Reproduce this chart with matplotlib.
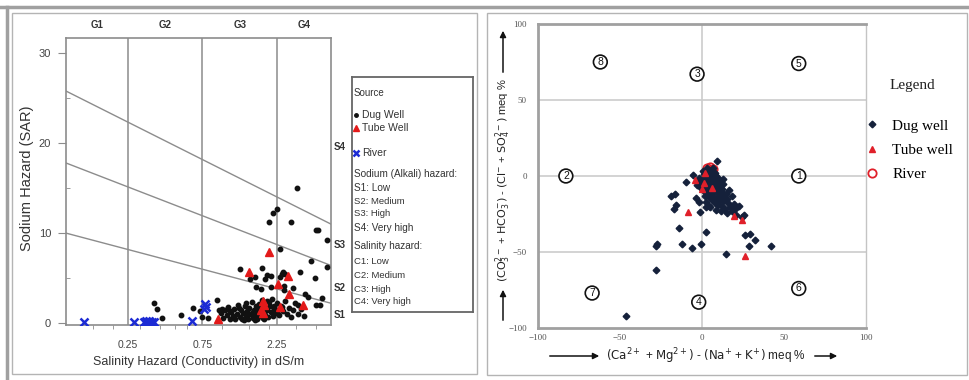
import numpy as np
import matplotlib.pyplot as plt
from matplotlib.patches import Rectangle
from matplotlib.lines import Line2D
from matplotlib.ticker import FixedLocator, NullFormatter

plt.rcParams['font.family'] = ['Liberation Sans', 'DejaVu Sans']

# ---------------- left panel data (USSL / Wilcox) ----------------
ec_span = [0.1, 5.0]                       # dS/m
class_bounds = [0.25, 0.75, 2.25]
class_labels = ['0.25', '0.75', '2.25']
class_names = ['G1', 'G2', 'G3', 'G4']
sar_lines_left = [10.0, 17.8, 25.8]        # SAR at 0.1 dS/m
sar_lines_right = [2.2, 6.4, 11.0]         # SAR at 5 dS/m
s_names = ['S1', 'S2', 'S3', 'S4']
s_label_sar = [0.9, 3.9, 8.7, 19.6]

dug_ec = [3.04, 2.26, 2.13, 2.01, 2.78, 4.03, 4.12, 4.68, 2.36, 3.74, 4.68, 1.30,
          1.81, 2.47, 2.42, 2.52, 3.18, 3.97, 1.63, 2.07, 2.36, 1.65, 2.07, 2.51,
          2.51, 2.86, 3.42, 3.57, 4.03, 4.27, 4.41, 3.09, 2.42, 1.52, 1.79, 1.90,
          1.93, 0.369, 0.386, 0.41, 0.543, 0.65, 0.72, 0.75, 0.81, 0.93, 0.95, 1.01,
          1.05, 1.08, 1.10, 1.12, 1.15, 1.17, 1.20, 1.22, 1.25, 1.27, 1.30, 1.32,
          1.35, 1.37, 1.40, 1.42, 1.45, 1.47, 1.50, 1.52, 1.55, 1.57, 1.60, 1.62,
          1.65, 1.67, 1.70, 1.72, 1.75, 1.77, 1.80, 1.82, 1.85, 1.88, 1.90, 1.93,
          1.95, 1.98, 2.02, 2.05, 2.08, 2.12, 2.16, 2.20, 2.24, 2.28, 2.32, 2.38,
          2.45, 2.52, 2.60, 2.68, 2.76, 2.85, 2.95, 3.05, 3.20, 3.35, 1.12, 1.28,
          1.43, 1.58, 1.73, 1.87, 2.00, 2.14, 1.38, 1.63, 1.85, 0.98, 1.00]
dug_sar = [15.0, 12.7, 12.2, 11.2, 11.2, 10.3, 10.3, 9.2, 8.2, 6.9, 6.2, 6.0,
           6.1, 5.7, 5.4, 5.4, 5.7, 5.0, 5.1, 5.2, 5.1, 4.0, 4.0, 4.1,
           3.7, 3.9, 3.2, 2.9, 2.0, 2.0, 2.8, 2.0, 1.8, 4.9, 3.8, 4.9,
           5.3, 2.2, 1.6, 0.6, 0.9, 1.7, 1.3, 0.7, 0.6, 2.6, 1.4, 0.6,
           1.5, 0.9, 1.8, 0.5, 1.2, 0.8, 1.6, 0.4, 1.0, 2.0, 0.7, 1.4,
           0.5, 1.1, 1.9, 0.8, 1.3, 0.4, 1.7, 1.0, 2.3, 0.6, 1.4, 0.9,
           1.9, 0.5, 1.2, 2.1, 0.8, 1.5, 2.6, 0.6, 1.1, 1.8, 0.9, 2.4,
           1.4, 0.7, 1.9, 1.2, 2.7, 0.8, 1.6, 1.1, 2.2, 1.5, 0.9, 1.9,
           1.3, 2.5, 1.0, 1.7, 0.7, 1.4, 2.2, 1.0, 1.6, 0.8, 1.3, 1.7,
           2.2, 1.2, 1.6, 1.3, 2.3, 1.9, 0.3, 0.3, 0.4, 1.1, 1.6]

tube_ec = [2.00, 1.49, 2.66, 2.28, 2.68, 3.30, 2.36, 1.83, 1.85, 1.78, 1.84, 0.94]
tube_sar = [7.9, 5.7, 5.2, 4.3, 3.2, 2.0, 1.8, 2.5, 2.0, 1.4, 1.1, 0.4]

river_ec = [0.131, 0.274, 0.314, 0.326, 0.333, 0.341, 0.348, 0.356, 0.364, 0.64, 0.77, 0.78, 0.79]
river_sar = [0.15, 0.1, 0.15, 0.2, 0.1, 0.2, 0.15, 0.1, 0.15, 0.25, 1.6, 2.1, 1.8]

# ---------------- right panel data (Chadha) ----------------
axis_ticks = [-100, -50, 0, 50, 100]
chadha_dug_x = [9.0, -5.3, -9.9, -19.1, -16.5, -16.0, -17.0, -3.8, -1.8, -1.4, 2.2, 4.3,
                -14.0, 2.2, -27.2, -28.2, -12.0, -6.3, -0.4, 14.8, 26.2, 29.1, 28.7, 32.3,
                42.3, 25.6, 24.6, -28.2, -46.5,
                0.5, 1.5, 2.5, 3.5, 4.5, 5.5, 6.5, 7.5, 8.5, 9.5, 1.0, 2.0, 3.0, 4.0,
                5.0, 6.0, 7.0, 8.0, 9.0, 10.0, 11.0, 12.0, 1.5, 2.5, 3.5, 4.5, 5.5, 6.5,
                7.5, 8.5, 9.5, 10.5, 11.5, 12.5, 13.5, 14.5, 3.0, 5.0, 7.0, 9.0, 11.0,
                13.0, 15.0, 16.0, 6.0, 8.0, 10.0, 12.0, 14.0, 17.0, 18.0, 20.0, 15.5,
                11.5, 19.5, 21.0, -1.0, -2.0, 0.0, -0.5, 1.0, -3.0, 4.0, 2.0, 6.0, 8.0,
                10.0, 11.5, 13.0, 12.5, 3.0, 7.0, 16.5, 18.5, 22.5, 5.0, 8.5, 2.5]
chadha_dug_y = [9.7, 0.7, -4.1, -13.0, -11.8, -19.0, -22.0, -14.7, -17.3, -24.0, -20.6, -20.0,
                -34.0, -36.6, -44.7, -45.8, -44.7, -47.4, -44.7, -51.3, -38.8, -38.2, -45.8, -42.1,
                -45.8, -25.7, -27.2, -61.8, -92.3,
                3.0, 1.5, 4.0, 0.5, 2.5, -1.0, 1.0, -2.0, 0.0, -3.0, -1.5, -3.0, -2.0, -4.5,
                -3.5, -5.5, -4.0, -6.5, -5.0, -7.5, -6.0, -8.5, -6.0, -7.5, -5.5, -8.0, -9.5, -7.5,
                -10.0, -9.0, -11.5, -10.0, -12.5, -11.0, -13.5, -12.0, -10.5, -12.0, -13.0, -14.5, -15.5,
                -16.5, -15.0, -18.0, -16.0, -17.5, -19.0, -20.0, -21.5, -20.5, -23.0, -22.0, -24.5,
                -23.0, -18.5, -25.5, -3.0, -1.0, -5.0, -8.0, -10.0, -6.0, -14.0, -13.0, 3.0, 2.0,
                -1.0, -3.5, -5.0, -2.0, 5.5, 5.0, -9.5, -13.0, -20.0, -20.5, -22.5, -17.0]
chadha_tube_x = [-8.3, 19.5, 24.2, 26.2, 0.2, -4.3, 1.5, 6.0, 2.0]
chadha_tube_y = [-24.0, -26.1, -28.7, -52.8, -8.6, -2.4, -4.5, -8.0, 2.0]
chadha_river_x = [3.0, 5.0, 7.0, 4.0, 6.0]
chadha_river_y = [5.5, 6.0, 4.5, 3.0, 2.5]
field_names = ['1', '2', '3', '4', '5', '6', '7', '8']

# ---------------- layout helpers ----------------
W, H = 969, 380
fig = plt.figure(figsize=(W / 100, H / 100), dpi=100)


def box(x0, y0, x1, y1):
    return [x0 / W, 1 - y1 / H, (x1 - x0) / W, (y1 - y0) / H]


fig.add_artist(Line2D([0, 1], [1 - 7 / H] * 2, transform=fig.transFigure, color='#a0a0a0', lw=2.5))
fig.add_artist(Line2D([7 / W] * 2, [0, 1 - 7 / H], transform=fig.transFigure, color='#a0a0a0', lw=2.5))
for b in [box(12, 13, 477, 374), box(487, 13, 967, 375)]:
    fig.add_artist(Rectangle((b[0], b[1]), b[2], b[3], transform=fig.transFigure,
                             fill=False, ec='#b4b4b4', lw=1))

# ---------------- left panel ----------------
ax1 = fig.add_axes(box(66, 38, 331, 325))
ax1.set_xscale('log')
ax1.set_xlim(*ec_span)
ax1.set_ylim(-0.22, 31.7)
for s in ax1.spines.values():
    s.set_color('#8c8c8c')
    s.set_linewidth(1.2)

for xb in class_bounds:
    ax1.axvline(xb, color='#8c8c8c', lw=1.1, zorder=1)
for l, r in zip(sar_lines_left, sar_lines_right):
    ax1.plot(ec_span, [l, r], color='#8c8c8c', lw=1.0, zorder=1)

ax1.set_xticks(class_bounds, labels=class_labels)
ax1.xaxis.set_minor_locator(FixedLocator([0.15, 0.2, 0.3, 0.4, 0.5, 0.6, 1.0, 1.5, 2.0, 3.0, 4.0]))
ax1.xaxis.set_minor_formatter(NullFormatter())
ax1.tick_params(axis='x', which='major', length=0, pad=11, labelsize=7.5, labelcolor='#444')
ax1.tick_params(axis='x', which='minor', length=3, color='#8c8c8c')
ax1.set_yticks([0, 10, 20, 30])
ax1.set_yticks([5, 15, 25], minor=True)
ax1.tick_params(axis='y', which='major', length=5.8, color='#8c8c8c', pad=5, labelsize=8, labelcolor='#444')
ax1.tick_params(axis='y', which='minor', length=3, direction='in', color='#8c8c8c')

ax1.plot(dug_ec, dug_sar, 'o', ms=3.2, color='#111111', ls='none', zorder=3)
ax1.plot(tube_ec, tube_sar, '^', ms=5.5, color='#e31a1a', ls='none', zorder=4)
ax1.plot(river_ec, river_sar, 'x', ms=5.5, mew=1.8, color='#1c2bd4', ls='none', zorder=5)

edges = [ec_span[0]] + class_bounds + [ec_span[1]]
for i, name in enumerate(class_names):
    ax1.text(np.sqrt(edges[i] * edges[i + 1]), 1.045, name, transform=ax1.get_xaxis_transform(),
             ha='center', va='center', fontsize=7, fontweight='bold', color='#333')
for name, yv in zip(s_names, s_label_sar):
    ax1.text(1.01, yv, name, transform=ax1.get_yaxis_transform(), ha='left', va='center',
             fontsize=7, fontweight='bold', color='#333')

fig.text(27 / W, 1 - 178 / H, 'Sodium Hazard (SAR)', rotation=90, ha='center', va='center',
         fontsize=10.5, color='#333')
fig.text(199 / W, 1 - 362 / H, 'Salinity Hazard (Conductivity) in dS/m', ha='center', va='center',
         fontsize=9, color='#333')

# left legend box
lg = fig.add_axes(box(352, 77, 473, 312))
lg.set_xlim(0, 121)
lg.set_ylim(235, 0)
lg.set_xticks([])
lg.set_yticks([])
for s in lg.spines.values():
    s.set_color('#666')
    s.set_linewidth(1.3)
lg.text(2, 16, 'Source', fontsize=7, va='center', color='#333')
lg.plot(4, 38, 'o', ms=2.5, color='#111')
lg.text(10, 38, 'Dug Well', fontsize=7.5, va='center', color='#333')
lg.plot(4, 51, '^', ms=4.5, color='#e31a1a')
lg.text(10, 51, 'Tube Well', fontsize=7.5, va='center', color='#333')
lg.plot(4, 76, 'x', ms=5, mew=1.8, color='#1c2bd4')
lg.text(10, 76, 'River', fontsize=7.5, va='center', color='#333')
hazard_rows = [('Sodium (Alkali) hazard:', 97, 7.2), ('S1: Low', 111, 7.2), ('S2: Medium', 124, 6.8),
               ('S3: High', 137, 6.8), ('S4: Very high', 151, 7.2), ('Salinity hazard:', 169, 7.2),
               ('C1: Low', 185, 6.8), ('C2: Medium', 199, 6.8), ('C3: High', 213, 6.8),
               ('C4: Very high', 225, 6.8)]
for txt, yy, fs in hazard_rows:
    lg.text(2, yy, txt, fontsize=fs, va='center', color='#333')

# ---------------- right panel ----------------
ax2 = fig.add_axes(box(538, 24, 866, 328))
ax2.set_xlim(-100, 100)
ax2.set_ylim(-100, 100)
ax2.set_xticks(axis_ticks)
ax2.set_yticks(axis_ticks)
ax2.tick_params(length=0, labelsize=6.5, labelcolor='#555')
ax2.tick_params(axis='x', pad=4)
ax2.tick_params(axis='y', pad=8)
for lab in ax2.get_xticklabels() + ax2.get_yticklabels():
    lab.set_family('Liberation Serif')
for side in ['top', 'left', 'bottom']:
    ax2.spines[side].set_color('#a0a0a0')
    ax2.spines[side].set_linewidth(2)
ax2.spines['right'].set_color('#c4c4c4')
ax2.spines['right'].set_linewidth(1)
for v in [-50, 0, 50]:
    ax2.axhline(v, color='#cccccc', lw=1.2, zorder=0)
ax2.axvline(0, color='#cccccc', lw=1.2, zorder=0)

ax2.plot(chadha_river_x, chadha_river_y, 'o', ms=6, mfc='none', mec='#e0202a', mew=1.3, ls='none', zorder=2)
ax2.plot(chadha_dug_x, chadha_dug_y, 'D', ms=3.4, color='#15213b', ls='none', zorder=3)
ax2.plot(chadha_tube_x, chadha_tube_y, '^', ms=4, color='#e0202a', ls='none', zorder=4)

field_pos = {'1': (59, 0), '2': (-83, 0), '3': (-3, 67), '4': (-2, -83),
             '5': (59, 74), '6': (59, -74), '7': (-67, -77), '8': (-62, 75)}
for name in field_names:
    fx_, fy_ = field_pos[name]
    ax2.text(fx_, fy_, name, ha='center', va='center', fontsize=7.5, color='#111', zorder=5,
             bbox=dict(boxstyle='circle,pad=0.18', fc='white', ec='#111', lw=1.2))

fig.text(503 / W, 1 - 180 / H,
         r'$(\mathrm{CO_3^{2-}}$ + $\mathrm{HCO_3^{-}})$ - $(\mathrm{Cl^{-}}$ + $\mathrm{SO_4^{2-}})$ meq %',
         rotation=90, ha='center', va='center', fontsize=8, color='#222')
fig.text(706 / W, 1 - 356 / H,
         r'$(\mathrm{Ca^{2+}}$ + $\mathrm{Mg^{2+}})$ - $(\mathrm{Na^{+}}$ + $\mathrm{K^{+}})$ meq %',
         ha='center', va='center', fontsize=8.5, color='#222')
arrow = dict(arrowstyle='-|>', color='#111', lw=1.1, mutation_scale=9)
for start, end in [((503, H - 323), (503, H - 287)), ((503, H - 75), (503, H - 28)),
                   ((547, H - 356), (602, H - 356)), ((812, H - 356), (840, H - 356))]:
    fig.add_artist(plt.Annotation('', xy=end, xytext=start, xycoords='figure pixels',
                                  textcoords='figure pixels', arrowprops=arrow))

fig.text(912 / W, 1 - 85 / H, 'Legend', ha='center', va='center', fontsize=11,
         family='Liberation Serif', color='#222')
handles = [Line2D([], [], marker='D', ms=3.4, color='#15213b', ls='none'),
           Line2D([], [], marker='^', ms=4, color='#e0202a', ls='none'),
           Line2D([], [], marker='o', ms=6, mfc='none', mec='#e0202a', mew=1.3, ls='none')]
fig.legend(handles, ['Dug well', 'Tube well', 'River'], loc='upper left',
           bbox_to_anchor=(860 / W, 1 - 113 / H), frameon=False, borderaxespad=0,
           prop={'family': 'Liberation Serif', 'size': 11},
           handlelength=0.8, handletextpad=0.9, labelspacing=0.68)

fig.savefig('out.png', dpi=100)
